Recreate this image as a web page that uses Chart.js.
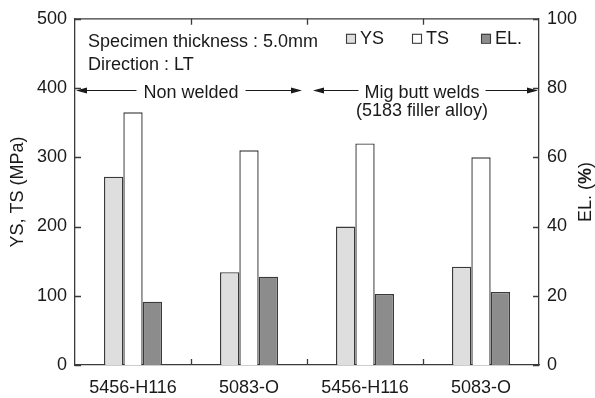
<!DOCTYPE html>
<html>
<head>
<meta charset="utf-8">
<script src="https://cdn.jsdelivr.net/npm/chart.js@4.4.1/dist/chart.umd.min.js"></script>
<style>
  html, body { margin: 0; padding: 0; background: #fff; }
</style>
</head>
<body>
<canvas id="chart" width="595" height="398"></canvas>
<script>
// data
const categories = ['5456-H116', '5083-O', '5456-H116', '5083-O'];
const ysValues = [272, 134, 200, 142];      // MPa
const tsValues = [365, 310, 320, 300];      // MPa
const elValues = [18.3, 25.5, 20.5, 21.1];  // %
const leftTicks = [0, 100, 200, 300, 400, 500];
const rightTicks = [0, 20, 40, 60, 80, 100];

const FONT = "'Liberation Sans', Arial, Helvetica, sans-serif";
const INK = '#1a1a1a';
const EDGE = '#3a3a3a';

function arrow(ctx, x1, x2, y) {
    // line from x1 to x2, head at x2
    const dir = x2 > x1 ? 1 : -1;
    ctx.beginPath();
    ctx.moveTo(x1, y);
    ctx.lineTo(x2 - dir * 8, y);
    ctx.stroke();
    ctx.beginPath();
    ctx.moveTo(x2, y);
    ctx.lineTo(x2 - dir * 11, y - 3);
    ctx.lineTo(x2 - dir * 11, y + 3);
    ctx.closePath();
    ctx.fill();
}

// frame, inside ticks, legend, notes and the right title
const framePlugin = {
    id: 'frame',
    afterDraw(chart) {
        const ctx = chart.ctx;
        const a = chart.chartArea;
        const x = chart.scales.x, y = chart.scales.y, y1 = chart.scales.y1;
        ctx.save();
        ctx.strokeStyle = EDGE;
        ctx.fillStyle = INK;
        ctx.lineWidth = 1.3;

        // top border
        ctx.beginPath();
        ctx.moveTo(a.left, a.top);
        ctx.lineTo(a.right, a.top);
        ctx.stroke();

        // category boundary ticks (bottom and top, pointing in)
        ctx.beginPath();
        for (let i = 0; i < categories.length - 1; i++) {
            const px = Math.round((x.getPixelForValue(i) + x.getPixelForValue(i + 1)) / 2) + 0.5;
            ctx.moveTo(px, a.bottom); ctx.lineTo(px, a.bottom - 6);
            ctx.moveTo(px, a.top); ctx.lineTo(px, a.top + 6);
        }
        leftTicks.forEach(v => {
            const py = Math.round(y.getPixelForValue(v)) + 0.5;
            ctx.moveTo(a.left, py); ctx.lineTo(a.left + 6, py);
        });
        rightTicks.forEach(v => {
            const py = Math.round(y1.getPixelForValue(v)) + 0.5;
            ctx.moveTo(a.right, py); ctx.lineTo(a.right - 6, py);
        });
        ctx.stroke();

        // legend, right-hand side of the top row
        ctx.font = '18px ' + FONT;
        ctx.textAlign = 'left';
        ctx.textBaseline = 'alphabetic';
        const boxOffsets = [193, 127, 58];
        chart.data.datasets.forEach((ds, i) => {
            const bx = a.right - boxOffsets[i];
            ctx.fillStyle = ds.backgroundColor;
            ctx.strokeStyle = EDGE;
            ctx.lineWidth = 1.1;
            ctx.fillRect(bx, a.top + 15, 9, 9);
            ctx.strokeRect(bx + 0.5, a.top + 15.5, 9, 9);
            ctx.fillStyle = INK;
            ctx.fillText(ds.label, bx + 14, a.top + 25);
        });

        // specimen note
        ctx.fillStyle = INK;
        ctx.font = '18px ' + FONT;
        ctx.fillText('Specimen thickness : 5.0mm', a.left + 13, a.top + 28);
        ctx.fillText('Direction : LT', a.left + 13, a.top + 51);

        // group labels with arrows
        ctx.strokeStyle = INK;
        ctx.lineWidth = 1.2;
        const ay = Math.round(y.getPixelForValue(400)) + 2.5;
        const mid = (x.getPixelForValue(1) + x.getPixelForValue(2)) / 2;
        ctx.textAlign = 'center';

        const t1 = 'Non welded';
        const c1 = x.getPixelForValue(0.5);
        const w1 = ctx.measureText(t1).width;
        ctx.fillText(t1, c1, ay + 7.5);
        arrow(ctx, c1 - w1 / 2 - 7, a.left + 1, ay);
        arrow(ctx, c1 + w1 / 2 + 7, mid - 5, ay);

        const t2 = 'Mig butt welds';
        const c2 = x.getPixelForValue(2.5) - 1;
        const w2 = ctx.measureText(t2).width;
        ctx.fillText(t2, c2, ay + 7.5);
        ctx.fillText('(5183 filler alloy)', c2, ay + 25);
        arrow(ctx, c2 - w2 / 2 - 6, mid + 6, ay);
        arrow(ctx, c2 + w2 / 2 + 6, a.right - 1, ay);

        // right axis title "EL. (%)" with bold %
        ctx.translate(586, (a.top + a.bottom) / 2);
        ctx.rotate(-Math.PI / 2);
        const parts = [['EL. (', '18px '], ['%', 'bold 18px '], [')', '18px ']];
        let total = 0;
        parts.forEach(p => { ctx.font = p[1] + FONT; total += ctx.measureText(p[0]).width; });
        let cx = -total / 2;
        ctx.textAlign = 'left';
        ctx.textBaseline = 'middle';
        parts.forEach(p => {
            ctx.font = p[1] + FONT;
            ctx.fillText(p[0], cx, 0);
            cx += ctx.measureText(p[0]).width;
        });
        ctx.restore();
    }
};

const ctx = document.getElementById('chart');
new Chart(ctx, {
    type: 'bar',
    data: {
        labels: categories,
        datasets: [
            { label: 'YS', data: ysValues, yAxisID: 'y', backgroundColor: '#dedede', borderColor: EDGE, borderWidth: 1.4 },
            { label: 'TS', data: tsValues, yAxisID: 'y', backgroundColor: '#ffffff', borderColor: EDGE, borderWidth: 1.4 },
            { label: 'EL.', data: elValues, yAxisID: 'y1', backgroundColor: '#8c8c8c', borderColor: EDGE, borderWidth: 1.4 }
        ]
    },
    options: {
        responsive: false,
        animation: false,
        devicePixelRatio: 1,
        categoryPercentage: 0.5,
        barPercentage: 1.0,
        layout: { padding: { top: 15, left: 0, right: 0, bottom: 0 } },
        plugins: {
            legend: { display: false },
            tooltip: { enabled: false }
        },
        scales: {
            x: {
                position: 'bottom',
                grid: { display: false, tickLength: 0 },
                border: { color: EDGE, width: 1.3 },
                ticks: { color: INK, font: { family: FONT, size: 18 }, padding: 12, maxRotation: 0 },
                afterFit: s => { s.height = 33; }
            },
            y: {
                position: 'left',
                min: 0, max: 500,
                grid: { display: false, tickLength: 0 },
                border: { color: EDGE, width: 1.3 },
                ticks: { stepSize: 100, color: INK, font: { family: FONT, size: 18 }, padding: 8 },
                title: { display: true, text: 'YS, TS (MPa)', color: INK, font: { family: FONT, size: 18 }, padding: { top: 7, bottom: 0 } },
                afterFit: s => { s.width = 75; }
            },
            y1: {
                position: 'right',
                min: 0, max: 100,
                grid: { display: false, tickLength: 0 },
                border: { color: EDGE, width: 1.3 },
                ticks: { stepSize: 20, color: INK, font: { family: FONT, size: 18 }, padding: 8 },
                afterFit: s => { s.width = 56; }
            }
        }
    },
    plugins: [framePlugin]
});
</script>
</body>
</html>
